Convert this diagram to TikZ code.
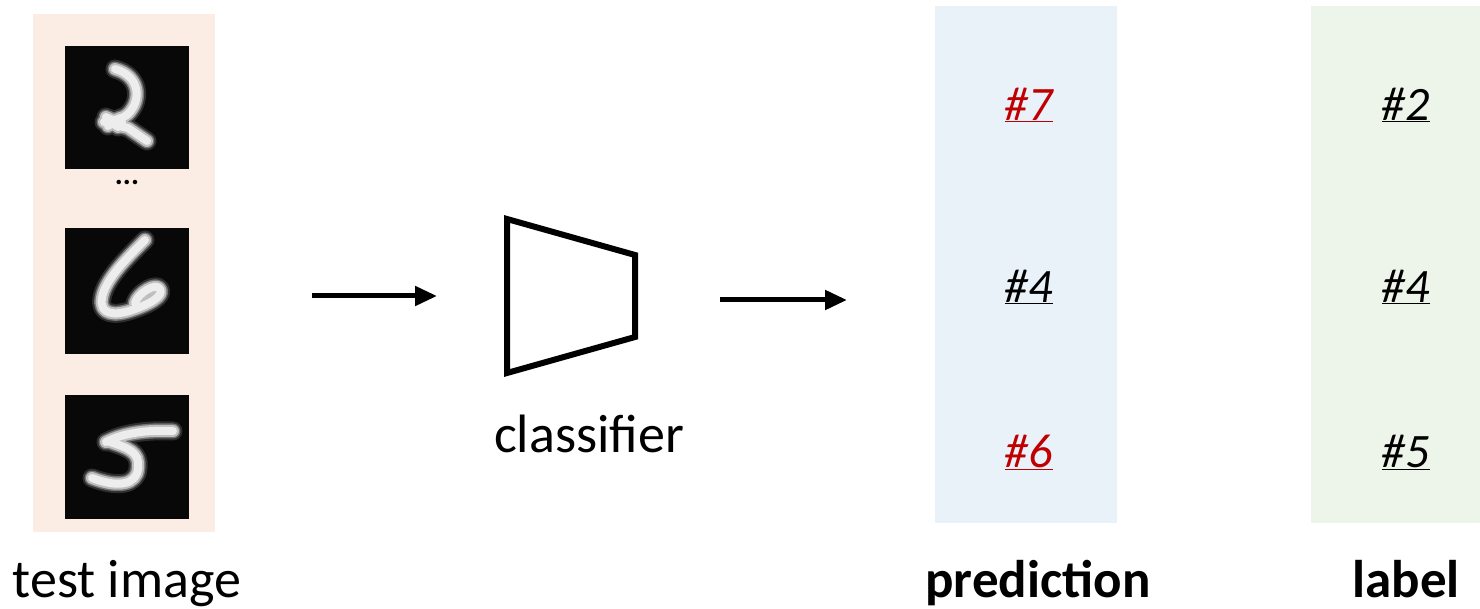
\documentclass[tikz,border=0pt]{standalone}
\usepackage{fontspec}
\setmainfont{Carlito}
\usetikzlibrary{arrows.meta}
\definecolor{inpanel}{RGB}{251,237,228}
\definecolor{predpanel}{RGB}{233,241,249}
\definecolor{labpanel}{RGB}{237,244,233}
\definecolor{wrong}{RGB}{192,0,0}
\tikzset{
  digitbox/.style={fill=black!97},
  inkA/.style={draw=white!18!black, line width=19pt, line cap=round, line join=round},
  inkB/.style={draw=white!45!black, line width=15pt, line cap=round, line join=round},
  inkC/.style={draw=white!75!black, line width=12pt, line cap=round, line join=round},
  inkD/.style={draw=white!93!black, line width=8pt, line cap=round, line join=round},
  flow/.style={line width=5pt, -{Triangle[length=22pt,width=19pt]}},
  cls/.style={draw=black, line width=6pt, line join=miter},
  tag/.style={font=\fontsize{48}{52}\selectfont\itshape, inner sep=0pt},
  caption/.style={font=\fontsize{54}{60}\selectfont, inner sep=0pt, anchor=base},
  bcaption/.style={caption, font=\fontsize{53}{60}\selectfont\bfseries},
}
\begin{document}
\begin{tikzpicture}[x=1pt,y=-1pt]
\useasboundingbox (0,0) rectangle (1480,609);

% column backgrounds
\fill[inpanel]   (33,14)   rectangle (215,532);
\fill[predpanel] (935,6)   rectangle (1117,523);
\fill[labpanel]  (1311,6)  rectangle (1480,523);

% test digits
\fill[digitbox] (65,46)  rectangle (189,169);
\fill[digitbox] (65,228) rectangle (189,354);
\fill[digitbox] (65,395) rectangle (189,519);

% handwritten two, with a thick knot at the lower left
\begin{scope}
  \clip (65,46) rectangle (189,169);
  \foreach \s in {inkA,inkB,inkC,inkD}{
    \draw[\s] (115,69) .. controls (140,76) and (142,100) .. (128,114)
          .. controls (122,119) and (112,122) .. (108,118)
          .. controls (110,126) and (122,126) .. (128,128)
          -- (147,141);
    \draw[\s] (106,117) -- (118,127) (108,126) -- (120,118) (104,122) -- (122,122);
  }
\end{scope}

% handwritten six
\begin{scope}
  \clip (65,228) rectangle (189,354);
  \foreach \s in {inkA,inkB,inkC,inkD}
    \draw[\s] (145,240) .. controls (125,260) and (105,280) .. (102,298)
          .. controls (99,315) and (115,316) .. (132,310)
          .. controls (150,304) and (164,296) .. (160,289)
          .. controls (156,282) and (138,293) .. (135,303);
\end{scope}

% handwritten five
\begin{scope}
  \clip (65,395) rectangle (189,519);
  \foreach \s in {inkA,inkB,inkC,inkD}{
    \draw[\s] (106,442) .. controls (125,432) and (150,430) .. (173,431);
    \draw[\s] (110,442) .. controls (128,448) and (140,452) .. (138,468)
          .. controls (137,485) and (118,488) .. (92,478);
  }
\end{scope}

\node (dots) at (127,182) {\fontsize{30}{32}\selectfont\textbf{...}};

% classifier block
\draw[cls] (507,219) -- (635,255) -- (635,337) -- (507,373) -- cycle;
\node (clsbox) at (571,296) {};
\node[caption] (clsname) at (589,452) {classifier};

% data flow
\coordinate (in1)  at (312,296);
\coordinate (out1) at (437,296);
\coordinate (in2)  at (720,300);
\coordinate (out2) at (847,300);
\draw[flow] (in1) -- (out1);
\draw[flow] (in2) -- (out2);

% predicted and true classes
\node[tag, text=wrong] (p1) at (1029,105) {\underline{\#7}};
\node[tag]             (p2) at (1029,287) {\underline{\#4}};
\node[tag, text=wrong] (p3) at (1029,452) {\underline{\#6}};
\node[tag] (l1) at (1406,105) {\underline{\#2}};
\node[tag] (l2) at (1406,287) {\underline{\#4}};
\node[tag] (l3) at (1406,452) {\underline{\#5}};

% column titles
\node[caption]  (tin)   at (127,597)  {test image};
\node[bcaption] (tpred) at (1038,597) {prediction};
\node[bcaption] (tlab)  at (1406,597) {label};
\end{tikzpicture}
\end{document}
